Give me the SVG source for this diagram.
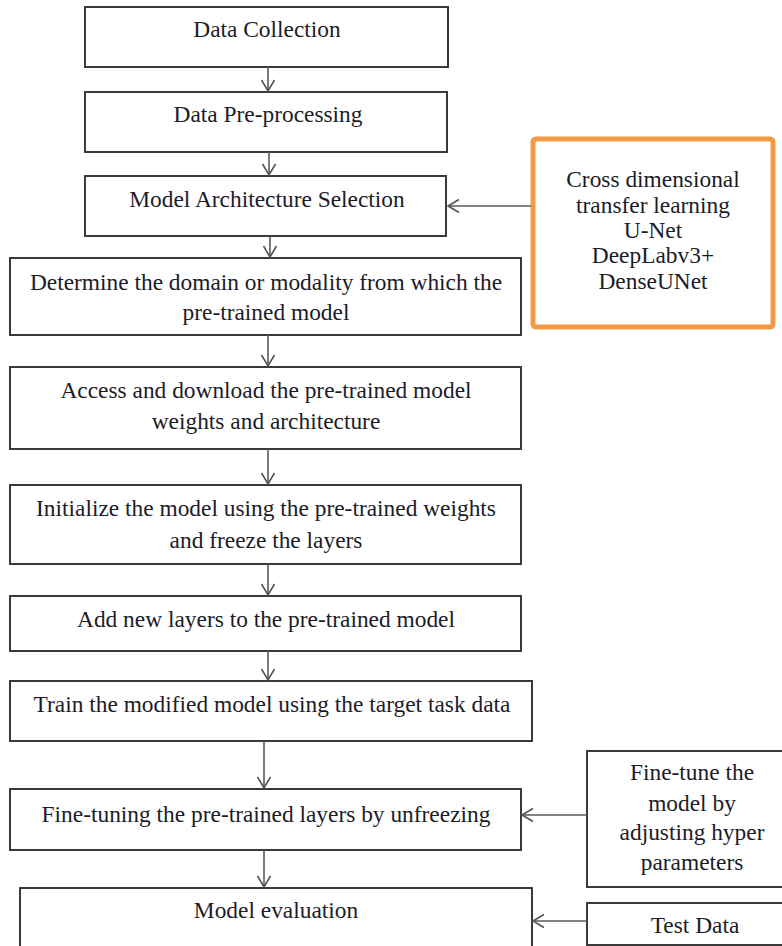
<svg xmlns="http://www.w3.org/2000/svg" width="782" height="946" viewBox="0 0 782 946">
<defs>
<marker id="ah" markerWidth="16" markerHeight="16" refX="13" refY="8" orient="auto" markerUnits="userSpaceOnUse">
<path d="M2,1.5 L13,8 L2,14.5" fill="none" stroke="#555" stroke-width="1.6"/>
</marker>
</defs>
<style>
.box{fill:#fff;stroke:#3a3a3a;stroke-width:2}
.obox{fill:#fff;stroke:#F39A45;stroke-width:5}
text{font-family:'Liberation Serif','Times New Roman',Times,'DejaVu Serif',serif;font-size:23.4px;fill:#1c1c28;text-anchor:middle}
.c{stroke:#5a5a5a;stroke-width:1.6;fill:none;marker-end:url(#ah)}
</style>
<rect width="782" height="946" fill="#fff"/>
<g id="n1"><rect class="box" x="85" y="7" width="363" height="60"/><text x="267" y="37">Data Collection</text></g>
<g id="n2"><rect class="box" x="85" y="92" width="362" height="60"/><text x="268" y="122">Data Pre-processing</text></g>
<g id="n3"><rect class="box" x="85" y="176" width="361" height="60"/><text x="267" y="207">Model Architecture Selection</text></g>
<g id="n4"><rect class="box" x="10" y="258" width="511" height="77"/><text x="266" y="290">Determine the domain or modality from which the</text><text x="266" y="320">pre-trained model</text></g>
<g id="n5"><rect class="box" x="10" y="367" width="511" height="82"/><text x="266" y="398">Access and download the pre-trained model</text><text x="266" y="429">weights and architecture</text></g>
<g id="n6"><rect class="box" x="10" y="485" width="511" height="79"/><text x="266" y="516">Initialize the model using the pre-trained weights</text><text x="266" y="548">and freeze the layers</text></g>
<g id="n7"><rect class="box" x="10" y="596" width="511" height="55"/><text x="266" y="627">Add new layers to the pre-trained model</text></g>
<g id="n8"><rect class="box" x="10" y="681" width="522" height="60"/><text x="272" y="712">Train the modified model using the target task data</text></g>
<g id="n9"><rect class="box" x="10" y="789" width="511" height="61"/><text x="266" y="822">Fine-tuning the pre-trained layers by unfreezing</text></g>
<g id="n10"><rect class="box" x="20" y="888" width="512" height="70"/><text x="276" y="918">Model evaluation</text></g>
<g id="n11"><rect class="obox" x="533" y="139" width="240" height="188" rx="3"/><text x="653" y="187">Cross dimensional</text><text x="653" y="213">transfer learning</text><text x="653" y="238">U-Net</text><text x="653" y="263">DeepLabv3+</text><text x="653" y="289">DenseUNet</text></g>
<g id="n12"><rect class="box" x="587" y="751" width="220" height="136"/><text x="692" y="780">Fine-tune the</text><text x="692" y="811">model by</text><text x="692" y="840">adjusting hyper</text><text x="692" y="870">parameters</text></g>
<g id="n13"><rect class="box" x="587" y="903" width="220" height="42"/><text x="695" y="933">Test Data</text></g>
<g id="connectors">
<line class="c" x1="268" y1="67" x2="268" y2="91"/>
<line class="c" x1="269" y1="152" x2="269" y2="175"/>
<line class="c" x1="270" y1="236" x2="270" y2="257"/>
<line class="c" x1="268" y1="335" x2="268" y2="366"/>
<line class="c" x1="268" y1="449" x2="268" y2="484"/>
<line class="c" x1="268" y1="564" x2="268" y2="595"/>
<line class="c" x1="268" y1="651" x2="268" y2="680"/>
<line class="c" x1="264" y1="741" x2="264" y2="788"/>
<line class="c" x1="264" y1="850" x2="264" y2="887"/>
<line class="c" x1="531" y1="206" x2="448" y2="206"/>
<line class="c" x1="587" y1="815" x2="522" y2="815"/>
<line class="c" x1="587" y1="921" x2="533" y2="921"/>
</g>
</svg>
